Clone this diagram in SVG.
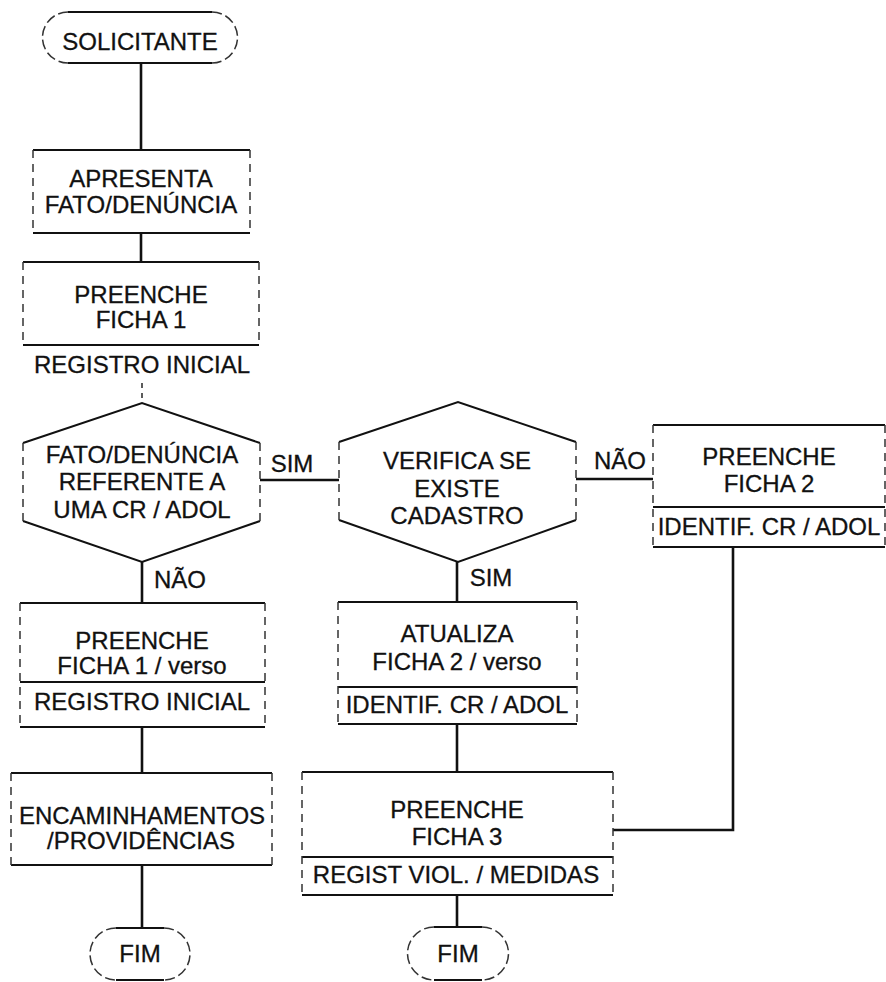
<svg xmlns="http://www.w3.org/2000/svg" width="886" height="982" viewBox="0 0 886 982">
<style>
.h{stroke:#111;stroke-width:2.2;fill:none}
.v{stroke:#333;stroke-width:1.5;stroke-dasharray:8 6;fill:none}
.s{stroke:#111;stroke-width:2;fill:none}
.c{stroke:#111;stroke-width:2.6;fill:none}
.cd{stroke:#333;stroke-width:1.6;stroke-dasharray:5 5;fill:none}
.t{stroke-dasharray:10 4}
text{font-family:"Liberation Sans",Arial,sans-serif;font-size:24px;fill:#111;stroke:#111;stroke-width:0.3;text-anchor:middle}
</style>
<rect width="886" height="982" fill="#fff"/>
<g id="connectors">
<line class="c" x1="141" y1="63" x2="141" y2="150"/>
<line class="c" x1="141" y1="233" x2="141" y2="262"/>
<line class="cd" x1="142" y1="383" x2="142" y2="403"/>
<line class="c" x1="142" y1="562" x2="142" y2="603"/>
<line class="c" x1="142" y1="727" x2="142" y2="773"/>
<line class="c" x1="142" y1="865" x2="142" y2="928"/>
<line class="c" x1="260" y1="480" x2="339" y2="480"/>
<line class="c" x1="576" y1="479" x2="653" y2="479"/>
<line class="c" x1="457" y1="562" x2="457" y2="602"/>
<line class="c" x1="457" y1="724" x2="457" y2="772"/>
<line class="c" x1="457" y1="895" x2="457" y2="927"/>
<polyline class="c" points="733,547 733,830 613,830"/>
<text x="292" y="472">SIM</text>
<text x="620" y="469">NÃO</text>
<text x="180" y="588">NÃO</text>
<text x="491" y="586">SIM</text>
</g>
<g id="solicitante">
<line class="h" x1="68" y1="12" x2="212" y2="12"/>
<line class="h" x1="68" y1="63" x2="212" y2="63"/>
<path class="v t" d="M68,12 A25.5,25.5 0 0 0 68,63 M212,12 A25.5,25.5 0 0 1 212,63"/>
<text x="140" y="50">SOLICITANTE</text>
</g>
<g id="apresenta">
<line class="h" x1="33" y1="150" x2="250" y2="150"/>
<line class="h" x1="33" y1="233" x2="250" y2="233"/>
<line class="v" x1="33" y1="150" x2="33" y2="233"/>
<line class="v" x1="250" y1="150" x2="250" y2="233"/>
<text x="141" y="187">APRESENTA</text>
<text x="141" y="213">FATO/DENÚNCIA</text>
</g>
<g id="ficha1">
<line class="h" x1="23" y1="262" x2="259" y2="262"/>
<line class="h" x1="23" y1="345" x2="259" y2="345"/>
<line class="v" x1="23" y1="262" x2="23" y2="345"/>
<line class="v" x1="259" y1="262" x2="259" y2="345"/>
<text x="141" y="303">PREENCHE</text>
<text x="141" y="328">FICHA 1</text>
<text x="142" y="373">REGISTRO INICIAL</text>
</g>
<g id="decisao1">
<polyline class="s" points="23,443 142,403 260,443"/>
<polyline class="s" points="23,521 142,562 260,521"/>
<line class="v" x1="23" y1="443" x2="23" y2="521"/>
<line class="v" x1="260" y1="443" x2="260" y2="521"/>
<text x="142" y="463">FATO/DENÚNCIA</text>
<text x="142" y="490">REFERENTE A</text>
<text x="142" y="518">UMA CR / ADOL</text>
</g>
<g id="decisao2">
<polyline class="s" points="339,442 458,402 576,442"/>
<polyline class="s" points="339,520 458,562 576,520"/>
<line class="v" x1="339" y1="442" x2="339" y2="520"/>
<line class="v" x1="576" y1="442" x2="576" y2="520"/>
<text x="457" y="469">VERIFICA SE</text>
<text x="457" y="497">EXISTE</text>
<text x="457" y="524">CADASTRO</text>
</g>
<g id="ficha2">
<line class="h" x1="653" y1="425" x2="885" y2="425"/>
<line class="h" x1="653" y1="507" x2="885" y2="507"/>
<line class="h" x1="653" y1="547" x2="885" y2="547"/>
<line class="v" x1="653" y1="425" x2="653" y2="547"/>
<line class="v" x1="885" y1="425" x2="885" y2="547"/>
<text x="769" y="465">PREENCHE</text>
<text x="769" y="492">FICHA 2</text>
<text x="769" y="535">IDENTIF. CR / ADOL</text>
</g>
<g id="ficha1verso">
<line class="h" x1="20" y1="603" x2="265" y2="603"/>
<line class="h" x1="20" y1="682" x2="265" y2="682"/>
<line class="h" x1="20" y1="727" x2="265" y2="727"/>
<line class="v" x1="20" y1="603" x2="20" y2="727"/>
<line class="v" x1="265" y1="603" x2="265" y2="727"/>
<text x="142" y="649">PREENCHE</text>
<text x="142" y="674">FICHA 1 / verso</text>
<text x="142" y="710">REGISTRO INICIAL</text>
</g>
<g id="encaminhamentos">
<line class="h" x1="11" y1="773" x2="272" y2="773"/>
<line class="h" x1="11" y1="865" x2="272" y2="865"/>
<line class="v" x1="11" y1="773" x2="11" y2="865"/>
<line class="v" x1="272" y1="773" x2="272" y2="865"/>
<text x="142" y="824">ENCAMINHAMENTOS</text>
<text x="141" y="849">/PROVIDÊNCIAS</text>
</g>
<g id="fim1">
<line class="h" x1="116" y1="928" x2="164" y2="928"/>
<line class="h" x1="116" y1="980" x2="164" y2="980"/>
<path class="v t" d="M116,928 A26,26 0 0 0 116,980 M164,928 A26,26 0 0 1 164,980"/>
<text x="140" y="962">FIM</text>
</g>
<g id="atualiza">
<line class="h" x1="338" y1="602" x2="577" y2="602"/>
<line class="h" x1="338" y1="687" x2="577" y2="687"/>
<line class="h" x1="338" y1="724" x2="577" y2="724"/>
<line class="v" x1="338" y1="602" x2="338" y2="724"/>
<line class="v" x1="577" y1="602" x2="577" y2="724"/>
<text x="457" y="642">ATUALIZA</text>
<text x="457" y="670">FICHA 2 / verso</text>
<text x="457" y="713">IDENTIF. CR / ADOL</text>
</g>
<g id="ficha3">
<line class="h" x1="302" y1="772" x2="613" y2="772"/>
<line class="h" x1="302" y1="857" x2="613" y2="857"/>
<line class="h" x1="302" y1="895" x2="613" y2="895"/>
<line class="v" x1="302" y1="772" x2="302" y2="895"/>
<line class="v" x1="613" y1="772" x2="613" y2="895"/>
<text x="457" y="818">PREENCHE</text>
<text x="457" y="845">FICHA 3</text>
<text x="456" y="883">REGIST VIOL. / MEDIDAS</text>
</g>
<g id="fim2">
<line class="h" x1="434" y1="927" x2="482" y2="927"/>
<line class="h" x1="434" y1="980" x2="482" y2="980"/>
<path class="v t" d="M434,927 A26.5,26.5 0 0 0 434,980 M482,927 A26.5,26.5 0 0 1 482,980"/>
<text x="458" y="962">FIM</text>
</g>
</svg>
